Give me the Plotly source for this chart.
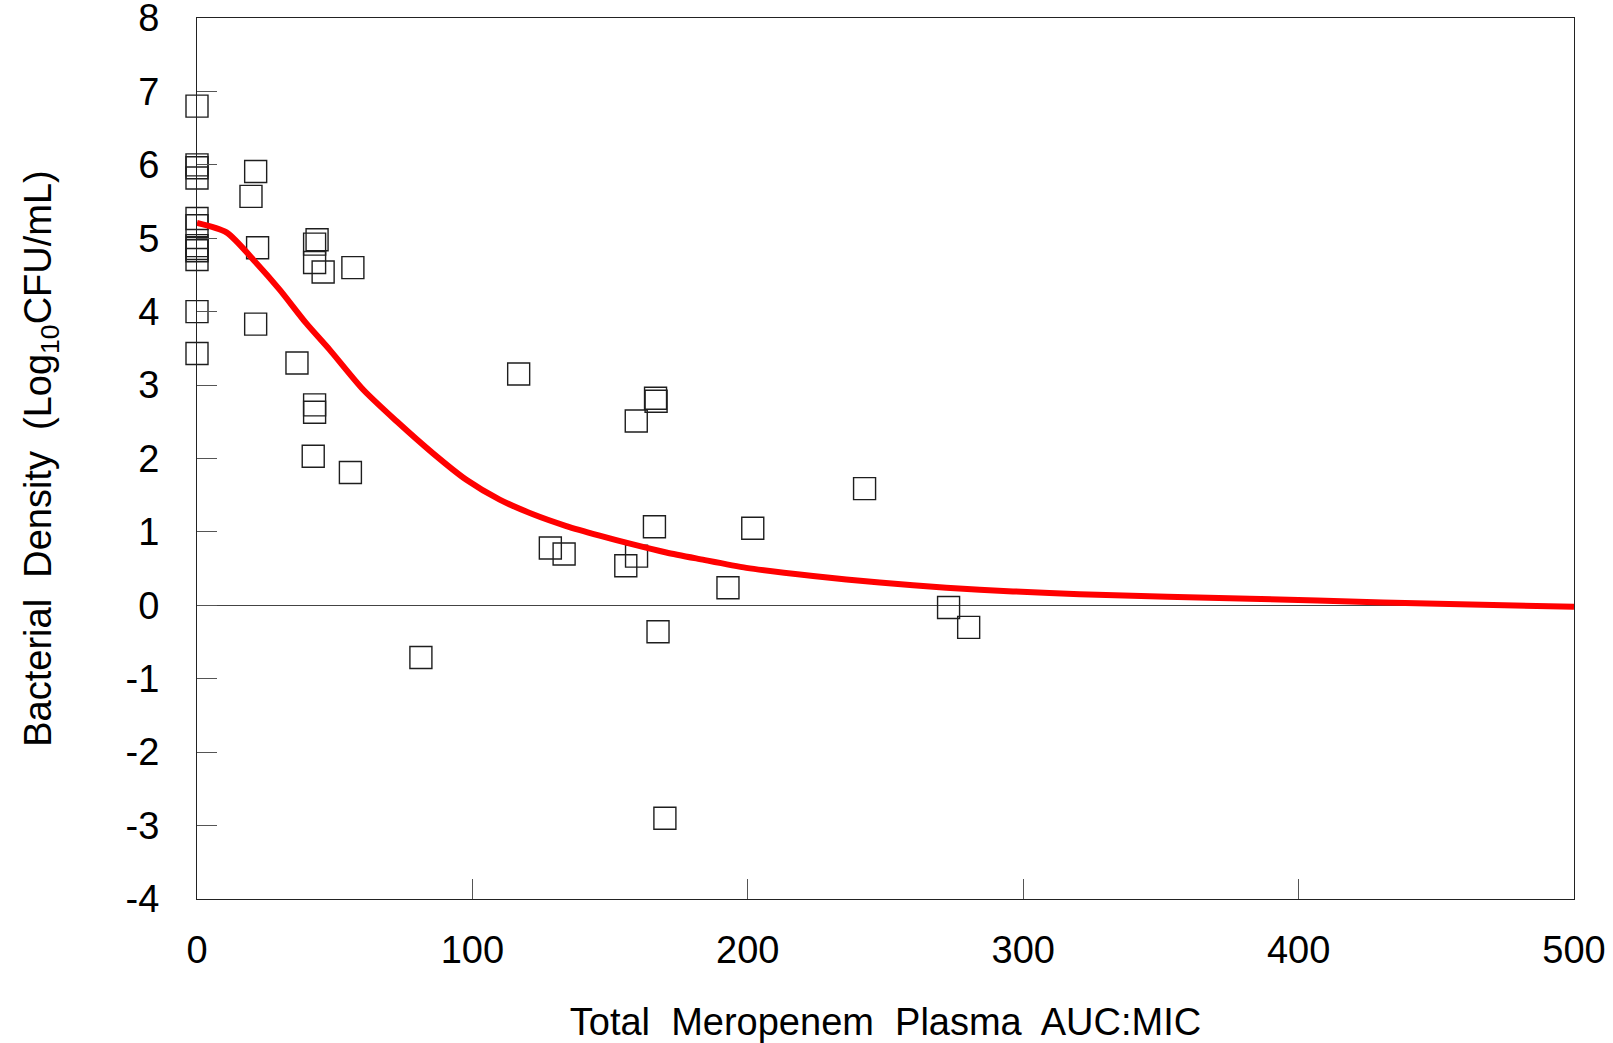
import plotly.graph_objects as go

# Observed bacterial density vs. total meropenem plasma AUC:MIC
obs_auc_mic = [
    0, 0, 0, 0, 0, 0, 0, 0, 0, 0, 0, 0,
    21.3, 19.6, 22.0, 43.6, 42.7, 42.7, 45.8, 56.6, 21.3, 36.3,
    42.7, 42.7, 42.2, 55.7, 116.8, 166.5, 166.7, 159.5, 166.1, 201.8,
    128.3, 133.3, 159.6, 155.7, 192.8, 81.3, 167.4, 169.9, 242.4, 272.9, 280.2,
]
obs_density = [
    6.80, 6.00, 5.96, 5.82, 5.27, 5.17, 4.90, 4.86, 4.83, 4.71, 4.00, 3.43,
    5.91, 5.57, 4.87, 4.98, 4.92, 4.67, 4.54, 4.60, 3.83, 3.30,
    2.73, 2.63, 2.03, 1.81, 3.15, 2.82, 2.78, 2.51, 1.07, 1.05,
    0.78, 0.70, 0.67, 0.54, 0.24, -0.71, -0.36, -2.90, 1.59, -0.03, -0.30,
]

# Fitted exposure-response curve
fit_auc_mic = [
    0, 10.7, 21.6, 30, 39.7, 48.2, 60.3, 72.4, 85.7, 97.8, 109.9, 122,
    134.1, 146.2, 158.3, 170.4, 182.5, 199.5, 223.7, 247.9, 272.1, 296.3,
    320.5, 382.3, 430.7, 500,
]
fit_density = [
    5.21, 5.08, 4.66, 4.30, 3.84, 3.48, 2.94, 2.51, 2.07, 1.71, 1.44, 1.24,
    1.08, 0.95, 0.83, 0.72, 0.63, 0.51, 0.40, 0.31, 0.24, 0.19,
    0.15, 0.09, 0.04, -0.02,
]

x_ticks = [0, 100, 200, 300, 400, 500]
y_ticks = [-4, -3, -2, -1, 0, 1, 2, 3, 4, 5, 6, 7, 8]

FONT = "Arial, Liberation Sans, sans-serif"
NB = "\u00a0"

fig = go.Figure()

fig.add_trace(go.Scatter(
    x=obs_auc_mic, y=obs_density, mode="markers",
    marker=dict(symbol="square-open", size=22, color="#1e1e1e",
                line=dict(width=1.4, color="#1e1e1e")),
    showlegend=False, cliponaxis=False,
))

fig.add_trace(go.Scatter(
    x=fit_auc_mic, y=fit_density, mode="lines",
    line=dict(color="#ff0000", width=6, shape="spline", smoothing=0.7),
    showlegend=False, cliponaxis=False,
))

fig.update_layout(
    width=1613, height=1043,
    margin=dict(l=197, r=39, t=18, b=144, autoexpand=False),
    paper_bgcolor="white", plot_bgcolor="white",
    font=dict(family=FONT, size=38, color="black"),
)

fig.update_xaxes(
    range=[0, 500], tickvals=x_ticks, ticktext=[str(v) for v in x_ticks],
    ticks="inside", ticklen=20, tickwidth=1, tickcolor="#555",
    showline=True, linecolor="#222", linewidth=1.2, mirror=True,
    showgrid=False, zeroline=False, automargin=False,
    ticklabelstandoff=17, ticklabeloverflow="allow",
    title=dict(text=f"Total{NB} Meropenem{NB} Plasma{NB} AUC:MIC", standoff=38,
               font=dict(size=38)),
)

fig.update_yaxes(
    range=[-4, 8], tickvals=y_ticks, ticktext=[str(v) for v in y_ticks],
    ticks="inside", ticklen=20, tickwidth=1, tickcolor="#555",
    showline=True, linecolor="#222", linewidth=1.2, mirror=True,
    showgrid=False, zeroline=True, zerolinecolor="#444", zerolinewidth=1,
    automargin=False,
    ticklabelstandoff=29, ticklabeloverflow="allow",
    title=dict(text=f"Bacterial{NB} Density{NB} (Log<sub>10</sub>CFU/mL)",
               standoff=62, font=dict(size=38)),
)

fig.write_html("out.html", config={"displayModeBar": False})
